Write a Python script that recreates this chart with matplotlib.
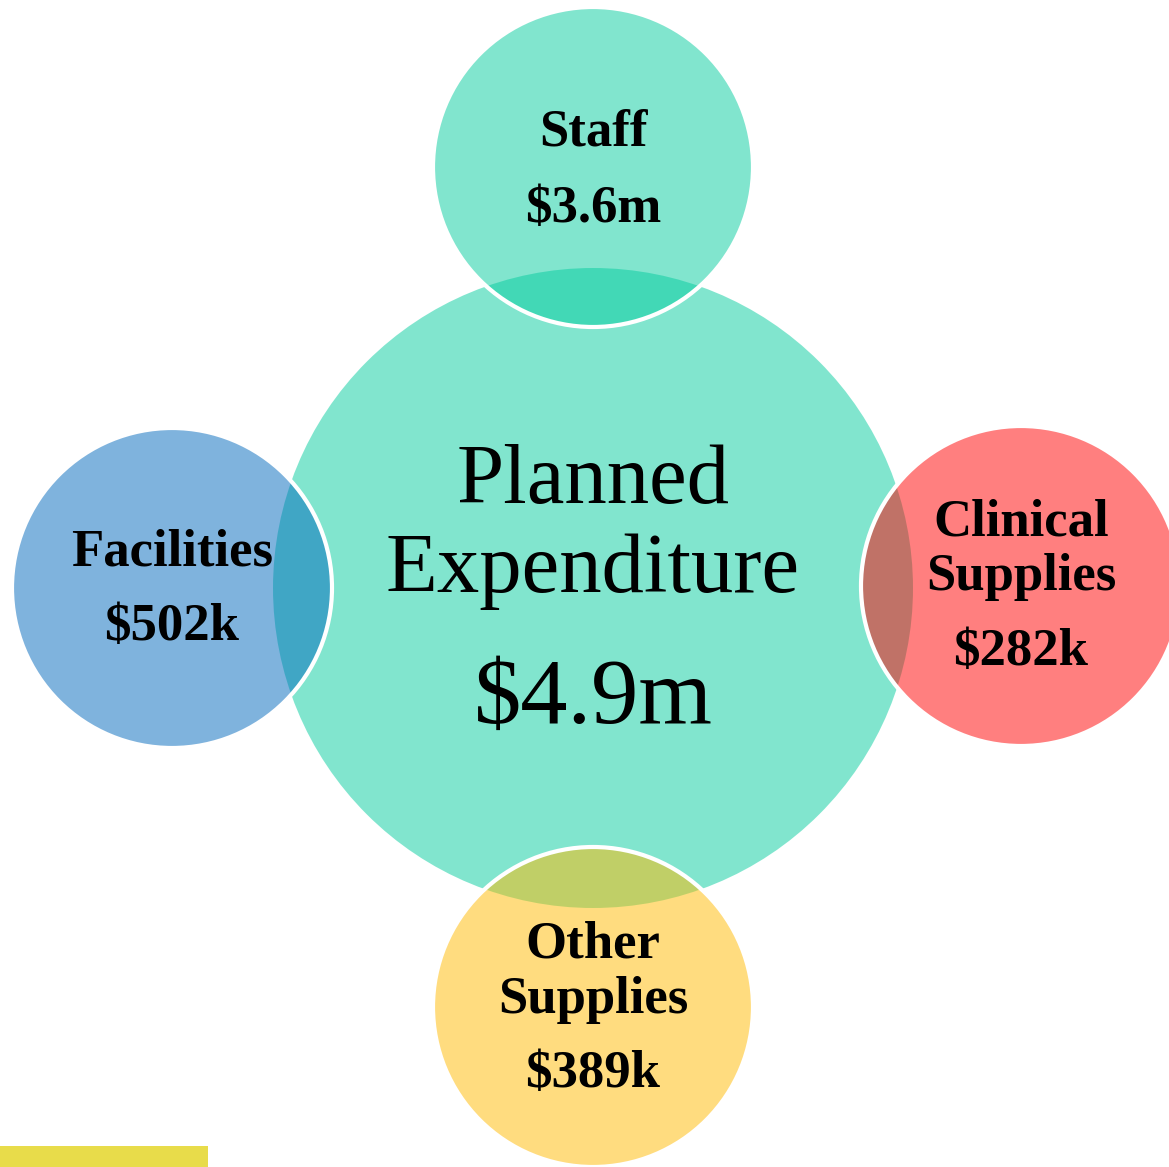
import matplotlib.pyplot as plt
from matplotlib.patches import Circle, Rectangle

# data
centre_title = ["Planned", "Expenditure"]
centre_total = "$4.9m"
names = [["Staff"], ["Clinical", "Supplies"], ["Other", "Supplies"], ["Facilities"]]
amounts = ["$3.6m", "$282k", "$389k", "$502k"]

# layout (pixels, y downward)
W, H = 1169, 1167
centre_xy = (593, 588)
centre_r = 320
small_xy = [(593, 167), (1021, 586), (593, 1007), (172, 588)]
small_r = 160
name_baselines = [[145], [535, 590], [958, 1013], [565]]
amount_baselines = [222, 665, 1087, 640]

centre_col = (5/255, 205/255, 159/255, 0.5)
small_cols = [
    (5/255, 205/255, 159/255, 0.5),
    (255/255, 1/255, 1/255, 0.5),
    (255/255, 187/255, 1/255, 0.5),
    (1/255, 105/255, 189/255, 0.5),
]

plt.rcParams['font.family'] = ['Liberation Serif', 'DejaVu Serif']

fig = plt.figure(figsize=(W / 100, H / 100), dpi=100)
ax = fig.add_axes([0, 0, 1, 1])
ax.set_xlim(0, W)
ax.set_ylim(H, 0)
ax.set_aspect('equal')
ax.axis('off')

ax.add_patch(Circle(centre_xy, centre_r, facecolor=centre_col, edgecolor='none', zorder=1))

for (x, y), col in zip(small_xy, small_cols):
    ax.add_patch(Circle((x, y), small_r, facecolor=col, edgecolor='white',
                        linewidth=3, zorder=2))

# yellow bar bottom left
ax.add_patch(Rectangle((0, 1146), 208, 21, facecolor='#E8DC4A', edgecolor='none', zorder=3))

# centre text
ax.text(593, 503, centre_title[0], ha='center', va='baseline', fontsize=61, zorder=5)
ax.text(593, 592, centre_title[1], ha='center', va='baseline', fontsize=61, zorder=5)
ax.text(593, 723, centre_total, ha='center', va='baseline', fontsize=68, zorder=5)

for (x, y), lines, bases, amt, ab in zip(small_xy, names, name_baselines, amounts, amount_baselines):
    for line, b in zip(lines, bases):
        ax.text(x, b, line, ha='center', va='baseline', fontsize=38,
                fontweight='bold', zorder=5)
    ax.text(x, ab, amt, ha='center', va='baseline', fontsize=38,
            fontweight='bold', zorder=5)

fig.savefig('out.png', dpi=100)
